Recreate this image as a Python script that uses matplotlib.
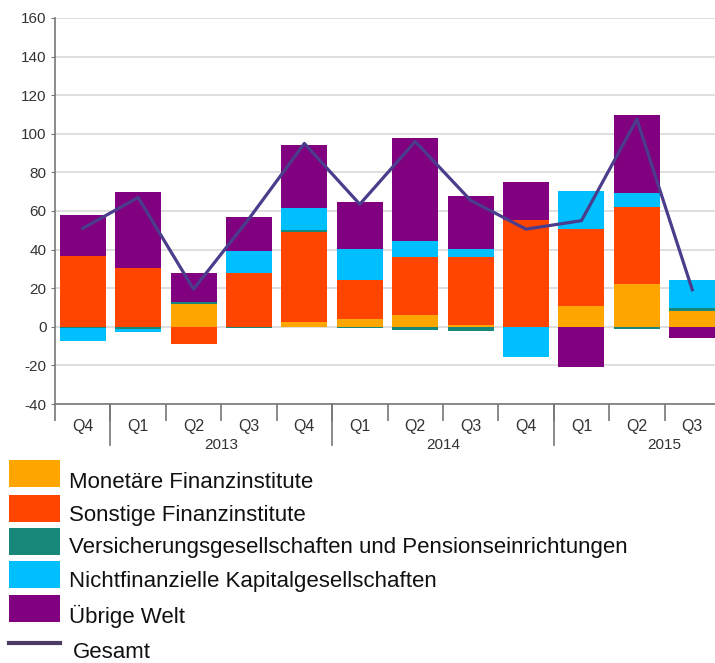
import numpy as np
import matplotlib
matplotlib.use("Agg")
import matplotlib.pyplot as plt
from matplotlib.patches import Rectangle
from matplotlib.lines import Line2D

plt.rcParams['font.family'] = ['Liberation Sans', 'DejaVu Sans']
plt.rcParams['axes.unicode_minus'] = False

quarters = ['Q4', 'Q1', 'Q2', 'Q3', 'Q4', 'Q1', 'Q2', 'Q3', 'Q4', 'Q1', 'Q2', 'Q3']
years = ['2013', '2014', '2015']
year_centers = [2.5, 6.5, 10.5]
year_seps = [0.5, 4.5, 8.5]

labels = ['Monetäre Finanzinstitute', 'Sonstige Finanzinstitute',
          'Versicherungsgesellschaften und Pensionseinrichtungen',
          'Nichtfinanzielle Kapitalgesellschaften', 'Übrige Welt']
colors = ['#FFA500', '#FF4500', '#17877A', '#00BFFF', '#800080']

monetaere = [0, 0, 12, 0, 2.7, 4, 6.2, 1, 0, 11, 22.1, 8.3]
sonstige = [36.5, 30.4, -9, 28, 46.5, 20.4, 30.2, 35.1, 55.4, 39.8, 39.9, 0]
versicherung = [-0.5, -1, 0.8, -0.5, 0.8, -0.8, -1.5, -2, 0, 0, -1, 1.4]
nichtfin = [-7, -1.7, 0, 11.3, 11.6, 16, 8.3, 4.3, -15.4, 19.7, 7.3, 14.3]
welt = [21.5, 39.6, 15, 17.8, 32.5, 24.4, 53.3, 27.6, 19.4, -20.6, 40.5, -5.9]
gesamt = [51, 67, 19.5, 56, 95, 63.5, 96, 65.5, 50.6, 55, 107.5, 19.2]

series = [monetaere, sonstige, versicherung, nichtfin, welt]

W, H = 715, 663
fig = plt.figure(figsize=(W / 100, H / 100), dpi=100)
ax = fig.add_axes([55 / W, (H - 404) / H, 665 / W, 386 / H])

x = np.arange(len(quarters))
pos_base = np.zeros(len(x))
neg_base = np.zeros(len(x))
for vals, c in zip(series, colors):
    v = np.array(vals, dtype=float)
    bottom = np.where(v >= 0, pos_base, neg_base)
    ax.bar(x, v, bottom=bottom, width=0.83, color=c, linewidth=0, zorder=2)
    pos_base += np.where(v >= 0, v, 0)
    neg_base += np.where(v < 0, v, 0)

line_color = '#4B3C8C'
ax.plot(x, gesamt, color=line_color, linewidth=2.3, zorder=3)

ax.set_xlim(-0.5, 11.5)
ax.set_ylim(-40, 160)
ax.set_yticks(range(-40, 161, 20))
ax.grid(axis='y', color='#dcdcdc', linewidth=1.3, zorder=0)
ax.set_axisbelow(True)

for s in ['top', 'right']:
    ax.spines[s].set_visible(False)
for s in ['left', 'bottom']:
    ax.spines[s].set_color('#777777')
    ax.spines[s].set_linewidth(1.2)

ax.tick_params(axis='y', length=3, color='#777777', labelsize=11, labelcolor='#333333', pad=3)
ax.set_xticks(x)
ax.set_xticklabels(quarters)
ax.tick_params(axis='x', which='major', length=0, labelsize=11.5, labelcolor='#333333', pad=11)
ax.set_xticks(np.arange(-0.5, 12, 1), minor=True)
ax.tick_params(axis='x', which='minor', length=12, color='#777777', width=1.2)

trans = ax.get_xaxis_transform()
for s in year_seps:
    ax.plot([s, s], [0, -41 / 386], transform=trans, color='#777777', linewidth=1.2, clip_on=False)
for yr, c in zip(years, year_centers):
    ax.text(c, -41 / 386, yr, transform=trans, ha='center', va='center', fontsize=11, color='#333333')

# legend drawn below the chart, positions in figure pixels
patch_tops = [460, 495, 528, 561, 595]
text_y = [482, 515, 548, 581, 616]
for top, ty, c, lab in zip(patch_tops, text_y, colors, labels):
    fig.add_artist(Rectangle((9 / W, 1 - (top + 27) / H), 51 / W, 27 / H,
                             transform=fig.transFigure, facecolor=c, edgecolor='none'))
    fig.text(69 / W, 1 - ty / H, lab, ha='left', va='center', fontsize=16, color='#111111')
fig.add_artist(Line2D([9 / W, 60 / W], [1 - 643 / H, 1 - 643 / H], transform=fig.transFigure,
                      color='#4A3C62', linewidth=3))
fig.text(73 / W, 1 - 653 / H, 'Gesamt', ha='left', va='center', fontsize=16, color='#111111')

fig.savefig('out.png', dpi=100)
